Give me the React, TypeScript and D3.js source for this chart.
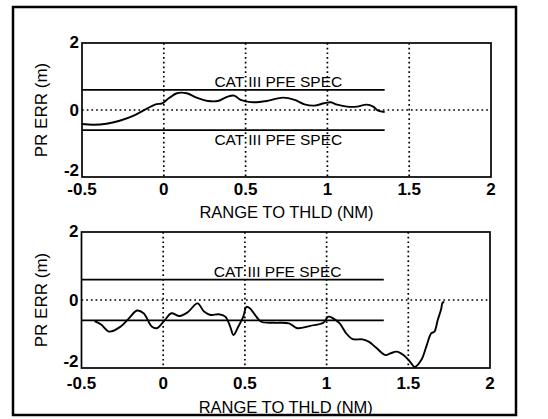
import React from "react";
import * as d3 from "d3";

// range to threshold (NM) and position error (m)
const topRange = [-0.5, -0.43, -0.35, -0.27, -0.18, -0.1, -0.05, -0.01, 0.03, 0.08, 0.14, 0.2, 0.27, 0.33, 0.39, 0.43, 0.47, 0.51, 0.55, 0.63, 0.73, 0.8, 0.86, 0.92, 0.98, 1.02, 1.06, 1.12, 1.18, 1.24, 1.28, 1.31, 1.35];
const topErr = [-0.42, -0.44, -0.41, -0.32, -0.16, 0.05, 0.17, 0.2, 0.35, 0.5, 0.5, 0.37, 0.27, 0.27, 0.4, 0.43, 0.3, 0.25, 0.23, 0.27, 0.37, 0.3, 0.17, 0.13, 0.2, 0.23, 0.16, 0.1, 0.1, 0.16, 0.1, -0.02, -0.06];

const bottomRange = [-0.42, -0.38, -0.33, -0.26, -0.21, -0.16, -0.12, -0.07, -0.04, 0.01, 0.05, 0.1, 0.15, 0.21, 0.25, 0.29, 0.34, 0.38, 0.41, 0.43, 0.46, 0.49, 0.51, 0.53, 0.57, 0.6, 0.68, 0.77, 0.82, 0.9, 0.98, 1.01, 1.04, 1.08, 1.12, 1.16, 1.22, 1.26, 1.3, 1.36, 1.39, 1.43, 1.47, 1.51, 1.54, 1.58, 1.61, 1.64, 1.66, 1.68, 1.7, 1.71, 1.72];
const bottomErr = [-0.62, -0.72, -0.93, -0.78, -0.54, -0.31, -0.39, -0.78, -0.83, -0.59, -0.39, -0.47, -0.36, -0.1, -0.34, -0.44, -0.42, -0.49, -0.78, -1.03, -0.78, -0.49, -0.2, -0.24, -0.49, -0.64, -0.67, -0.69, -0.83, -0.76, -0.67, -0.49, -0.54, -0.69, -0.98, -1.15, -1.16, -1.23, -1.39, -1.62, -1.57, -1.52, -1.62, -1.81, -1.97, -1.76, -1.37, -0.98, -0.93, -0.59, -0.29, -0.08, -0.06];

const xTicks = [-0.5, 0, 0.5, 1, 1.5, 2];
const yTicks = [-2, 0, 2];
const gridX = [0, 0.5, 1, 1.5];
const specLevel = 0.6;
const specEnd = 1.35;
const specLabel = "CAT III PFE SPEC";
const xLabel = "RANGE TO THLD (NM)";
const yLabel = "PR ERR (m)";

const FONT = "'Liberation Sans', Arial, Helvetica, sans-serif";

type PanelProps = {
  xs: number[];
  ys: number[];
  left: number;
  right: number;
  top: number;
  bottom: number;
  lowerLabel: boolean;
  tickGap: number;
  labelGap: number;
};

const Panel = ({ xs, ys, left, right, top, bottom, lowerLabel, tickGap, labelGap }: PanelProps) => {
  const x = d3.scaleLinear().domain([-0.5, 2]).range([left, right]);
  const y = d3.scaleLinear().domain([-2, 2]).range([bottom, top]);

  const line = d3.line<number>()
    .x((_, i) => x(xs[i]))
    .y((d) => y(d))
    .curve(d3.curveCatmullRom.alpha(0.5));

  const midX = (left + right) / 2;
  const midY = (top + bottom) / 2;
  const labelX = x(0.7);

  return (
    <g>
      {gridX.map((v) => (
        <line key={"gx" + v} x1={x(v)} x2={x(v)} y1={top} y2={bottom}
          stroke="#000" strokeWidth={1.7} strokeDasharray="1.7,3" />
      ))}
      <line x1={left} x2={right} y1={y(0)} y2={y(0)}
        stroke="#000" strokeWidth={1.7} strokeDasharray="1.7,3" />

      {[specLevel, -specLevel].map((v) => (
        <line key={"s" + v} x1={x(-0.5)} x2={x(specEnd)} y1={y(v)} y2={y(v)}
          stroke="#000" strokeWidth={1.7} />
      ))}
      <text x={labelX} y={y(specLevel) - 3} textAnchor="middle" fontSize={15.5} fontFamily={FONT}>{specLabel}</text>
      {lowerLabel && (
        <text x={labelX} y={y(-specLevel) + 15} textAnchor="middle" fontSize={15.5} fontFamily={FONT}>{specLabel}</text>
      )}

      <path d={line(ys) ?? ""} fill="none" stroke="#000" strokeWidth={1.9} strokeLinejoin="round" />

      <rect x={left} y={top} width={right - left} height={bottom - top}
        fill="none" stroke="#000" strokeWidth={1.7} />

      {yTicks.map((v) => (
        <text key={"yt" + v} x={left - 3} y={y(v) + (v === -2 ? -1 : v === 2 ? 5 : 6)}
          textAnchor="end" fontSize={17} fontWeight="bold" fontFamily={FONT}>{v}</text>
      ))}
      {xTicks.map((v) => (
        <text key={"xt" + v} x={x(v)} y={bottom + tickGap} textAnchor="middle"
          fontSize={17} fontWeight="bold" fontFamily={FONT}>{v}</text>
      ))}
      <text x={midX} y={bottom + labelGap} textAnchor="middle" fontSize={16.5} fontFamily={FONT}>{xLabel}</text>
      <text transform={`translate(${left - 35},${midY}) rotate(-90)`} textAnchor="middle"
        fontSize={17} fontFamily={FONT}>{yLabel}</text>
    </g>
  );
};

export default function App() {
  return (
    <svg width={548} height={419} style={{ position: "absolute", left: 0, top: 0, background: "#fff" }}>
      <rect x={0} y={0} width={548} height={419} fill="#fff" />
      <rect x={13} y={7} width={503} height={408} fill="none" stroke="#000" strokeWidth={2.5} />
      <Panel xs={topRange} ys={topErr} left={82} right={491} top={43} bottom={177}
        lowerLabel={true} tickGap={18} labelGap={41} />
      <Panel xs={bottomRange} ys={bottomErr} left={81.5} right={490} top={232} bottom={368}
        lowerLabel={false} tickGap={21} labelGap={45} />
    </svg>
  );
}
